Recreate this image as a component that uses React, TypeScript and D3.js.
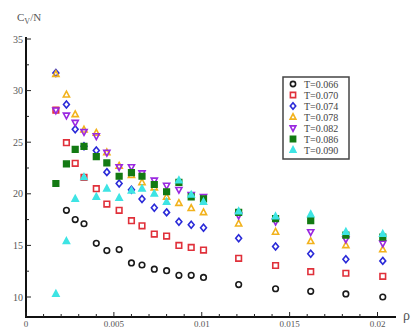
import { useEffect, useRef } from "react";
import * as d3 from "d3";

// density grid
const rho = [
  0.0017, 0.0023, 0.0028, 0.0033, 0.004, 0.0046, 0.0053, 0.006, 0.0066, 0.0073,
  0.008, 0.0087, 0.0094, 0.0101, 0.0121, 0.0142, 0.0162, 0.0182, 0.0203,
];

const temps = ["T=0.066", "T=0.070", "T=0.074", "T=0.078", "T=0.082", "T=0.086", "T=0.090"];

const cvT066 = [null, 18.4, 17.5, 17.1, 15.2, 14.5, 14.6, 13.3, 13.1, 12.7, 12.55, 12.1, 12.1, 11.9, 11.2, 10.8, 10.55, 10.3, 10.0];
const cvT070 = [28.1, 24.95, 22.95, 21.6, 20.5, 19.0, 18.4, 17.4, 16.9, 16.1, 15.9, 15.0, 14.8, 14.55, 13.75, 13.05, 12.45, 12.3, 12.0];
const cvT074 = [31.7, 28.65, 26.25, 24.6, 24.2, 22.1, 21.0, 20.4, 19.5, 18.65, 18.2, 17.3, 17.0, 16.7, 15.7, 14.9, 14.2, 13.65, 13.5];
const cvT078 = [31.6, 29.6, 27.7, 26.2, 25.9, 24.0, 22.7, 21.8, 21.1, 20.6, 19.7, 19.1, 18.6, 18.2, 17.1, 16.3, 15.4, 15.0, 14.6];
const cvT082 = [28.1, 27.6, 26.9, 26.0, 25.6, 24.0, 22.6, 22.6, 22.0, 21.3, 20.8, 20.4, 19.9, 19.7, 17.9, 17.3, 16.3, 15.6, 15.2];
const cvT086 = [21.0, 22.9, 24.3, 24.6, 23.6, 23.0, 21.7, 22.05, 21.7, 20.9, 20.2, 21.1, 19.7, 19.5, 18.2, 17.6, 17.4, 16.0, 15.8];
const cvT090 = [10.3, 15.4, 19.5, 21.6, 19.7, 20.5, 19.6, 20.3, 20.5, 20.0, 19.2, 21.3, 19.9, 19.2, 18.3, 17.8, 18.0, 16.3, 16.1];

const series = [cvT066, cvT070, cvT074, cvT078, cvT082, cvT086, cvT090];

const yTicks = [10, 15, 20, 25, 30, 35];
const xTicks = [0, 0.005, 0.01, 0.015, 0.02];
const xTickLabels = ["0", "0.005", "0.01", "0.015", "0.02"];

const markers = [
  { shape: "circle", color: "#1a1a1a", filled: false },
  { shape: "square", color: "#e0303a", filled: false },
  { shape: "diamond", color: "#2a2ad8", filled: false },
  { shape: "triangle", color: "#f2b21c", filled: false },
  { shape: "down", color: "#9a28e0", filled: false },
  { shape: "square", color: "#137a13", filled: true },
  { shape: "triangle", color: "#3ee4e4", filled: true },
];

const markerPath = (shape, r) => {
  switch (shape) {
    case "square":
      return `M${-r},${-r}H${r}V${r}H${-r}Z`;
    case "diamond":
      return `M0,${-r * 1.25}L${r * 1.05},0L0,${r * 1.25}L${-r * 1.05},0Z`;
    case "triangle":
      return `M0,${-r * 1.25}L${r * 1.1},${r * 0.8}L${-r * 1.1},${r * 0.8}Z`;
    case "down":
      return `M0,${r * 1.25}L${r * 1.1},${-r * 0.8}L${-r * 1.1},${-r * 0.8}Z`;
    default:
      return d3.arc()({ innerRadius: 0, outerRadius: r, startAngle: 0, endAngle: 2 * Math.PI });
  }
};

const App = () => {
  const svgRef = useRef();

  useEffect(() => {
    const width = 414;
    const height = 329;
    const svg = d3.select(svgRef.current);
    svg.selectAll("*").remove();
    svg.attr("width", width).attr("height", height);

    const x = d3.scaleLinear().domain([0, 0.02]).range([26, 377.5]);
    const y = d3.scaleLinear().domain([10, 35]).range([297, 39]);
    const x0 = 26;
    const yBase = 317;
    const font = "'Liberation Serif', 'DejaVu Serif', serif";

    // axes lines
    svg.append("line").attr("x1", x0).attr("x2", x0).attr("y1", 37).attr("y2", yBase)
      .attr("stroke", "#111").attr("stroke-width", 2);
    svg.append("line").attr("x1", x0 - 1).attr("x2", 396).attr("y1", yBase).attr("y2", yBase)
      .attr("stroke", "#111").attr("stroke-width", 2);

    // y ticks
    d3.range(10, 35.01, 2.5).forEach((v) => {
      const major = v % 5 === 0;
      svg.append("line").attr("x1", x0).attr("x2", x0 + (major ? 5 : 3))
        .attr("y1", y(v)).attr("y2", y(v)).attr("stroke", "#222").attr("stroke-width", 1);
    });
    svg.selectAll(".ylab").data(yTicks).enter().append("text")
      .attr("x", x0 - 3).attr("y", (d) => y(d) + 3.5)
      .attr("text-anchor", "end").style("font-family", font).style("font-size", "10px")
      .attr("fill", "#555").text((d) => d);

    // x ticks
    d3.range(0, 21).forEach((i) => {
      const major = i % 5 === 0;
      const xv = x(i * 0.001);
      svg.append("line").attr("x1", xv).attr("x2", xv).attr("y1", yBase).attr("y2", yBase - (major ? 5 : 3))
        .attr("stroke", "#222").attr("stroke-width", 1);
    });
    svg.selectAll(".xlab").data(xTicks).enter().append("text")
      .attr("x", (d) => x(d)).attr("y", yBase + 10)
      .attr("text-anchor", "middle").style("font-family", font).style("font-size", "9px")
      .attr("fill", "#555").text((d, i) => xTickLabels[i]);

    // axis titles
    const yt = svg.append("text").attr("x", 17).attr("y", 21)
      .style("font-family", font).style("font-size", "11px").attr("fill", "#555");
    yt.append("tspan").text("C");
    yt.append("tspan").attr("dy", 3).style("font-size", "8px").text("V");
    yt.append("tspan").attr("dy", -3).text("/N");
    svg.append("text").attr("x", 403).attr("y", 320)
      .style("font-family", font).style("font-size", "14px").attr("fill", "#555").text("ρ");

    // points
    series.forEach((vals, si) => {
      const m = markers[si];
      svg.append("g").selectAll("path")
        .data(vals.map((v, i) => ({ r: rho[i], v })).filter((d) => d.v !== null))
        .enter().append("path")
        .attr("transform", (d) => `translate(${x(d.r)},${y(d.v)})`)
        .attr("d", markerPath(m.shape, 2.8))
        .attr("fill", m.filled ? m.color : "none")
        .attr("stroke", m.color)
        .attr("stroke-width", 1.6);
    });

    // legend
    const lg = svg.append("g");
    lg.append("rect").attr("x", 283).attr("y", 77).attr("width", 66).attr("height", 82)
      .attr("fill", "white").attr("stroke", "#444").attr("stroke-width", 1.5);
    temps.forEach((t, i) => {
      const m = markers[i];
      const ly = 84 + i * 11;
      lg.append("path").attr("transform", `translate(293,${ly})`)
        .attr("d", markerPath(m.shape, 2.6))
        .attr("fill", m.filled ? m.color : "none")
        .attr("stroke", m.color).attr("stroke-width", 1.6);
      lg.append("text").attr("x", 304).attr("y", ly + 3.5)
        .style("font-family", font).style("font-size", "10px").attr("fill", "#444").text(t);
    });
  }, []);

  return <svg ref={svgRef} style={{ position: "absolute", left: 0, top: 0, background: "white" }}></svg>;
};

export default App;
